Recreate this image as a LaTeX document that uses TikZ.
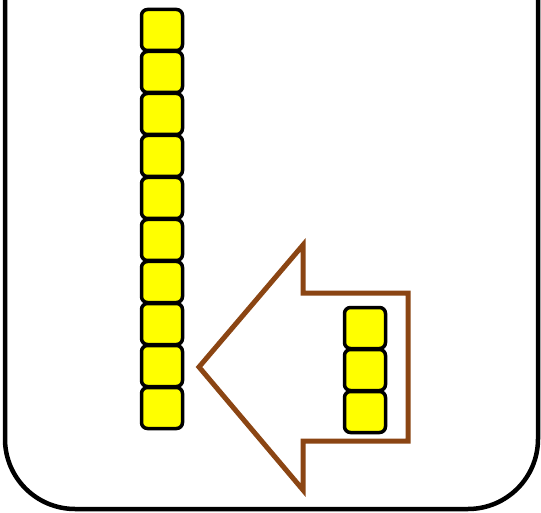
\documentclass[tikz,border=0pt]{standalone}
\usepackage{tikz}
\definecolor{arrowbrown}{HTML}{8B4513}
\definecolor{cubeyellow}{HTML}{FFFF00}

\begin{document}
\begin{tikzpicture}[x=1pt,y=-1pt,
  cube/.style={draw,fill=cubeyellow,line width=3.5pt,rounded corners=6pt,minimum width=41pt,minimum height=41pt,inner sep=0pt},
  frame/.style={line width=4.5pt,rounded corners=70pt},
  bigarrow/.style={draw=arrowbrown,line width=5pt,miter limit=10}]
\useasboundingbox (0,0) rectangle (541,513);
% container, top side cut off
\draw[frame] (5,-10) -- (5,509) -- (538,509) -- (538,-10);
% column of ten
\foreach \i in {1,...,10}
  \node[cube] (col\i) at (162,{30+42*(\i-1)}) {};
% arrow
\draw[bigarrow] (199,367) -- (303,245) -- (303,293) -- (408,293) -- (408,441)
  -- (303,441) -- (303,490) -- cycle;
% three units
\foreach \i in {1,2,3}
  \node[cube] (unit\i) at (365,{328+42*(\i-1)}) {};
\end{tikzpicture}
\end{document}
